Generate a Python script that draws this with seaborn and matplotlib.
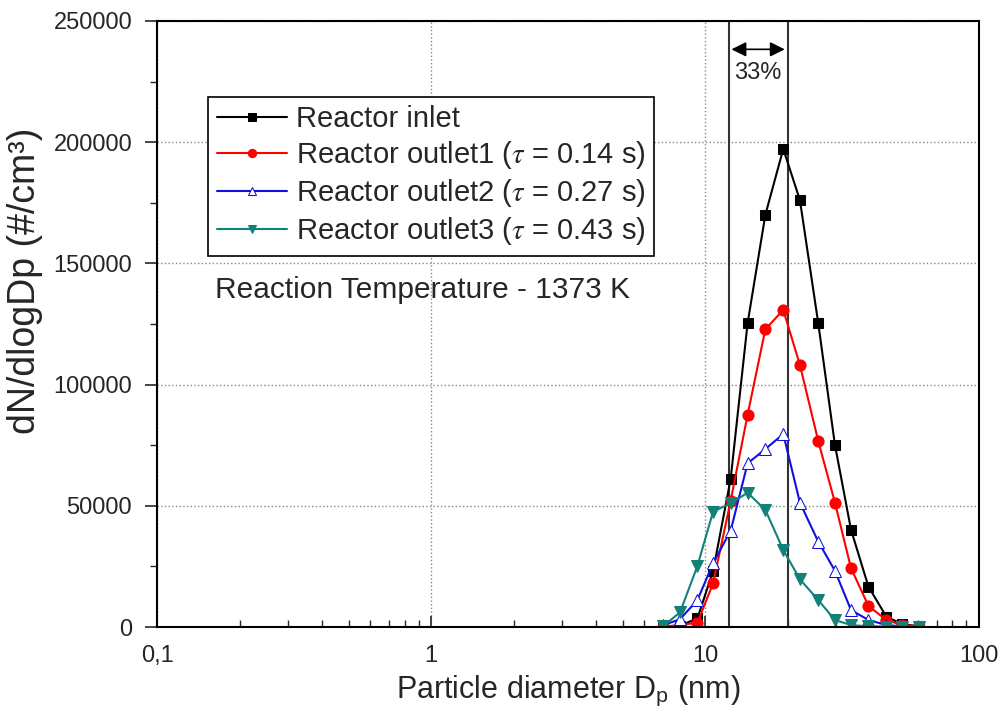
import numpy as np
import pandas as pd
import matplotlib
matplotlib.use("Agg")
import matplotlib.pyplot as plt
import seaborn as sns
from matplotlib.ticker import FixedLocator, FixedFormatter, MultipleLocator, LogLocator, NullFormatter

# Data (particle diameter in nm, dN/dlogDp in #/cm3)
dp = [7.05, 8.1, 9.38, 10.7, 12.4, 14.3, 16.6, 19.3, 22.2, 25.9, 29.8, 34.1, 39.5, 45.9, 52.3, 60.4]
inlet = [0, 500, 3600, 23100, 61000, 125300, 170000, 197200, 176100, 125300, 75100, 40200, 16600, 4300, 1200, 300]
outlet1 = [200, 800, 1800, 18000, 52000, 87500, 122800, 130800, 108100, 76700, 51300, 24300, 8700, 2900, 800, 200]
outlet2 = [800, 3200, 11100, 26300, 39700, 67500, 73400, 79600, 51300, 35200, 23200, 7000, 2900, 800, 300, 200]
outlet3 = [500, 6000, 25200, 47600, 51000, 55400, 48300, 31800, 19700, 11100, 2900, 800, 300, 200, 200, 200]

series_names = ["Reactor inlet",
                r"Reactor outlet1 ($\tau$ = 0.14 s)",
                r"Reactor outlet2 ($\tau$ = 0.27 s)",
                r"Reactor outlet3 ($\tau$ = 0.43 s)"]
bracket_dp = [12.2, 20.0]

sns.set_style("ticks")
plt.rcParams['font.family'] = ['Liberation Sans', 'DejaVu Sans']
plt.rcParams['mathtext.fontset'] = 'stix'

fig = plt.figure(figsize=(10.01, 7.13), dpi=100)
ax = fig.add_axes([0.157, 0.1206, 0.821, 0.85])

styles = [
    dict(color="black", marker="s", markersize=7, markerfacecolor="black", markeredgecolor="black"),
    dict(color="#ff0000", marker="o", markersize=8, markerfacecolor="#ff0000", markeredgecolor="#ff0000"),
    dict(color="#1010e0", marker="^", markersize=9, markerfacecolor="white", markeredgecolor="#1010e0"),
    dict(color="#128278", marker="v", markersize=9, markerfacecolor="#128278", markeredgecolor="#128278"),
]

for name, vals, st in zip(series_names, [inlet, outlet1, outlet2, outlet3], styles):
    df = pd.DataFrame({"dp": dp, "n": vals})
    sns.lineplot(data=df, x="dp", y="n", ax=ax, label=name, linewidth=1.5, **st)

ax.set_xscale("log")
ax.set_xlim(0.1, 100)
ax.set_ylim(0, 250000)

# bracket lines marking the shift
for b in bracket_dp:
    ax.axvline(b, color="#333333", linewidth=1.5, zorder=1)
ax.annotate("", xy=(bracket_dp[0], 238300), xytext=(bracket_dp[1], 238300),
            arrowprops=dict(arrowstyle="<|-|>", color="black", lw=1.2, mutation_scale=22))
ax.text(np.sqrt(bracket_dp[0] * bracket_dp[1]), 228500, "33%", ha="center", va="center", fontsize=17)

ax.text(0.163, 139000, "Reaction Temperature - 1373 K", fontsize=21.5, va="center")

ax.xaxis.set_major_locator(FixedLocator([0.1, 1, 10, 100]))
ax.xaxis.set_major_formatter(FixedFormatter(["0,1", "1", "10", "100"]))
ax.xaxis.set_minor_locator(LogLocator(base=10, subs=np.arange(2, 10)))
ax.xaxis.set_minor_formatter(NullFormatter())
ax.yaxis.set_major_locator(MultipleLocator(50000))
ax.yaxis.set_minor_locator(MultipleLocator(25000))

ax.tick_params(axis="x", which="major", direction="in", length=8, width=1.2, labelsize=17, pad=13)
ax.tick_params(axis="x", which="minor", direction="in", length=5, width=1.0)
ax.tick_params(axis="y", which="major", direction="out", length=9, width=1.2, labelsize=17, pad=9)
ax.tick_params(axis="y", which="minor", direction="out", length=5, width=1.0)

ax.grid(True, which="major", linestyle=":", color="#888888", linewidth=1.0)
for sp in ax.spines.values():
    sp.set_linewidth(1.5)
    sp.set_color("black")

ax.set_xlabel(r"Particle diameter D$_\mathregular{p}$ (nm)", fontsize=22, labelpad=5)
ax.set_ylabel("dN/dlogDp (#/cm³)", fontsize=27)
ax.yaxis.set_label_coords(-0.139, 0.571)

leg = ax.legend(loc="upper left", bbox_to_anchor=(0.062, 0.875), borderaxespad=0,
                fontsize=21, frameon=True, fancybox=False, edgecolor="black",
                handlelength=2.4, numpoints=1, labelspacing=0.2, borderpad=0.3,
                handletextpad=0.3, framealpha=1)
leg.get_frame().set_linewidth(1.2)
for h in leg.legend_handles:
    h.set_markersize(6)

fig.savefig("out.png", dpi=100)
